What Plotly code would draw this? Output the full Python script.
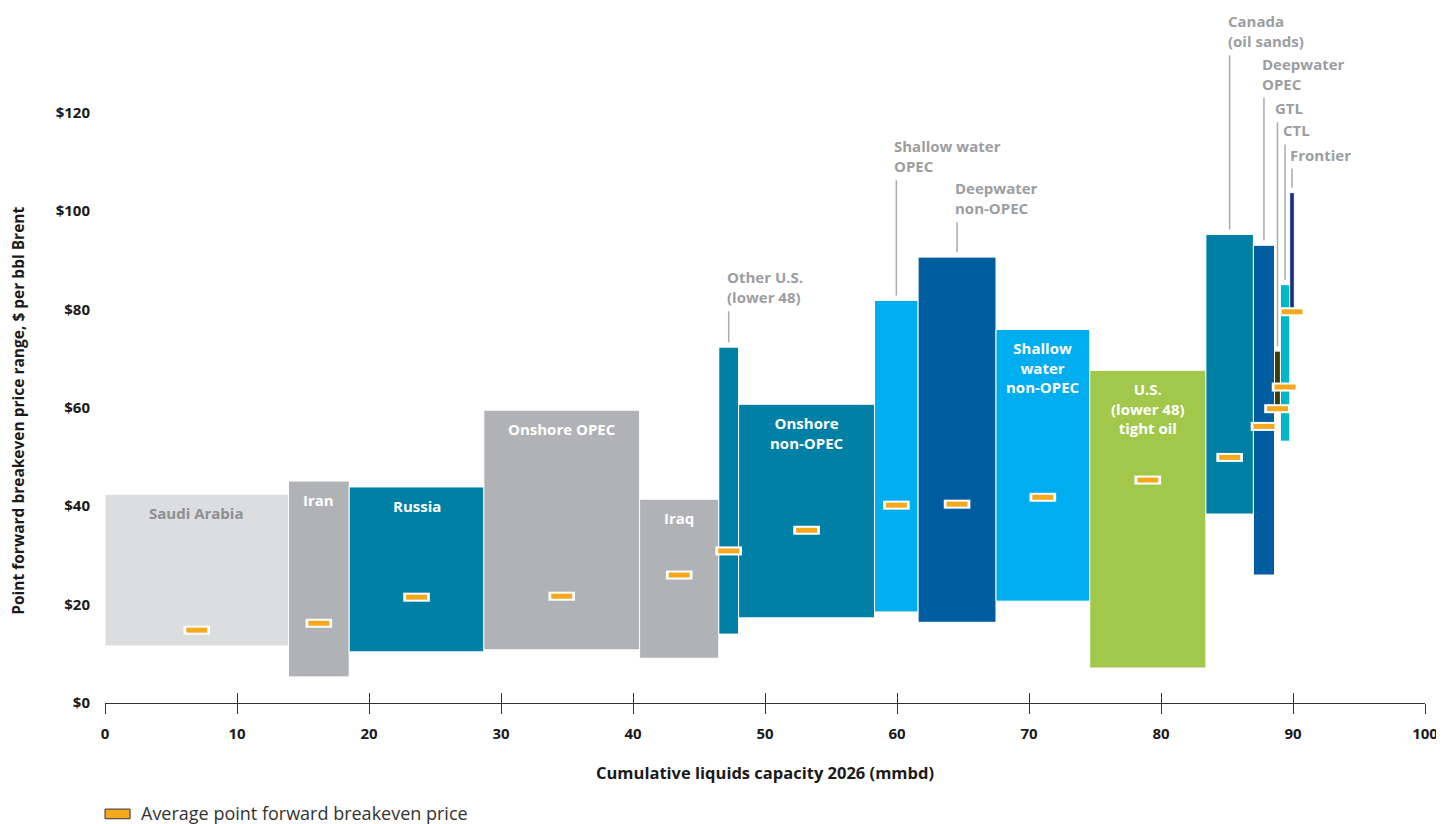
import plotly.graph_objects as go

# ---------------- data ----------------
names = ["Saudi Arabia", "Iran", "Russia", "Onshore OPEC", "Iraq", "Other U.S. (lower 48)",
         "Onshore non-OPEC", "Shallow water OPEC", "Deepwater non-OPEC", "Shallow water non-OPEC",
         "U.S. (lower 48) tight oil", "Canada (oil sands)", "Deepwater OPEC", "GTL", "CTL", "Frontier"]
capacity = [13.9, 4.6, 10.2, 11.8, 6.0, 1.5, 10.3, 3.3, 5.9, 7.1, 8.8, 3.6, 1.6, 0.45, 0.7, 0.35]
price_low = [11.6, 5.3, 10.4, 10.8, 9.1, 14.0, 17.3, 18.5, 16.4, 20.7, 7.1, 38.4, 26.0, 59.6, 53.2, 78.9]
price_high = [42.4, 45.1, 43.9, 59.5, 41.4, 72.3, 60.7, 81.8, 90.6, 75.9, 67.6, 95.2, 93.0, 71.5, 85.0, 103.7]
price_avg = [14.8, 16.2, 21.5, 21.7, 26.0, 30.9, 35.1, 40.2, 40.4, 41.8, 45.3, 49.9, 56.2, 59.8, 64.2, 79.5]
y_ticks = [0, 20, 40, 60, 80, 100, 120]
y_tick_labels = ["$0", "$20", "$40", "$60", "$80", "$100", "$120"]
x_ticks = [0, 10, 20, 30, 40, 50, 60, 70, 80, 90, 100]

# ---------------- styles ----------------
colors = ["#DCDDDF", "#B1B2B6", "#0080A5", "#B1B2B6", "#B1B2B6", "#0080A5",
          "#0080A5", "#00AEEF", "#005DA0", "#00AEEF", "#A1C84B", "#0080A5",
          "#005DA0", "#3B3A10", "#00B7CA", "#17307A"]

# inside labels: index -> (text, colour)
inside = {
    0: ("Saudi Arabia", "#8E8F93"),
    1: ("Iran", "white"),
    2: ("Russia", "white"),
    3: ("Onshore OPEC", "white"),
    4: ("Iraq", "white"),
    6: ("Onshore<br>non-OPEC", "white"),
    9: ("Shallow<br>water<br>non-OPEC", "white"),
    10: ("U.S.<br>(lower 48)<br>tight oil", "white"),
}
# outside labels: index -> (text, leader-top y; the text sits just above the leader)
outside = {
    5: ("Other U.S.<br>(lower 48)", 79.6),
    7: ("Shallow water<br>OPEC", 106.2),
    8: ("Deepwater<br>non-OPEC", 97.7),
    11: ("Canada<br>(oil sands)", 131.6),
    12: ("Deepwater<br>OPEC", 123.0),
    13: ("GTL", 118.0),
    14: ("CTL", 113.5),
    15: ("Frontier", 108.6),
}

starts = []
acc = 0.0
for c in capacity:
    starts.append(acc)
    acc += c
centers = [s + c / 2 for s, c in zip(starts, capacity)]
heights = [h - l for h, l in zip(price_high, price_low)]

FONT = "Open Sans"
GRAY = "#9C9DA1"
LBL = 15

fig = go.Figure()
fig.add_trace(go.Bar(
    x=centers, y=heights, base=price_low, width=capacity,
    marker=dict(color=colors, line=dict(color="white", width=1)),
    hovertext=names, showlegend=False,
))
# average markers (white outline + orange fill)
fig.add_trace(go.Scatter(
    x=centers, y=price_avg, mode="markers", showlegend=False, hoverinfo="skip",
    marker=dict(symbol="line-ew", size=19, line=dict(color="white", width=9)),
))
fig.add_trace(go.Scatter(
    x=centers, y=price_avg, mode="markers", showlegend=False,
    marker=dict(symbol="line-ew", size=15, line=dict(color="#F5A81C", width=5)),
    hovertext=names,
))

# hidden overlay axis for the inward part of the crossing ticks
fig.add_trace(go.Scatter(x=[0, 100], y=[0, 0], xaxis="x2", mode="markers",
                         marker=dict(opacity=0), showlegend=False, hoverinfo="skip"))

annotations = []
for i, (txt, col) in inside.items():
    annotations.append(dict(
        x=centers[i], y=price_high[i], xref="x", yref="y", text="<b>" + txt + "</b>",
        showarrow=False, yanchor="top", xanchor="center", yshift=-7,
        font=dict(family=FONT, size=LBL, color=col), align="center",
    ))
shapes = []
for i, (txt, ylead) in outside.items():
    annotations.append(dict(
        x=centers[i], y=ylead, xref="x", yref="y", text="<b>" + txt + "</b>",
        showarrow=False, yanchor="bottom", xanchor="left", xshift=-4, yshift=2,
        font=dict(family=FONT, size=LBL, color=GRAY), align="left",
    ))
    shapes.append(dict(type="line", xref="x", yref="y", x0=centers[i], x1=centers[i],
                       y0=price_high[i] + 1.0, y1=ylead, line=dict(color="#A9AAAD", width=1.5)))

# axis titles
annotations.append(dict(
    x=-0.0655, y=0.4235, xref="paper", yref="paper", textangle=-90, showarrow=False,
    text="<b>Point forward breakeven price range, $ per bbl Brent</b>",
    font=dict(family=FONT, size=15.5, color="#1A1A1A"), xanchor="center", yanchor="middle",
))
annotations.append(dict(
    x=0.5, y=-0.1015, xref="paper", yref="paper", showarrow=False,
    text="<b>Cumulative liquids capacity 2026 (mmbd)</b>",
    font=dict(family=FONT, size=16.5, color="#1A1A1A"), xanchor="center", yanchor="middle",
))
# legend
shapes.append(dict(type="rect", xref="paper", yref="paper", x0=0.0, x1=0.019,
                   y0=-0.168, y1=-0.154, fillcolor="#F5A81C", line=dict(color="#333333", width=1)))
annotations.append(dict(
    x=0.026, y=-0.160, xref="paper", yref="paper", showarrow=False,
    text="Average point forward breakeven price", xanchor="left", yanchor="middle",
    font=dict(family=FONT, size=18, color="#333333"),
))

# the page body adds an 8px margin, so the figure is sized to fit inside the window
fig.update_layout(
    width=1436, height=816,
    margin=dict(l=97, r=17, t=6, b=121),
    paper_bgcolor="white", plot_bgcolor="white",
    barmode="overlay",
    xaxis=dict(range=[0, 100], tickvals=x_ticks, ticks="outside", ticklen=10, tickcolor="#333",
               tickwidth=1.2, showline=True, linecolor="#333", linewidth=1.2, showgrid=False,
               zeroline=False, tickfont=dict(family=FONT, size=15, color="#1A1A1A", weight="bold"),
               ticklabelstandoff=7),
    xaxis2=dict(range=[0, 100], overlaying="x", side="bottom", tickvals=x_ticks, ticks="inside",
                ticklen=10, tickcolor="#333", tickwidth=1.2, showticklabels=False, showgrid=False,
                zeroline=False, showline=False),
    yaxis=dict(range=[0, 140], tickvals=y_ticks, ticktext=y_tick_labels, showgrid=False,
               zeroline=False, showline=False, ticks="", ticklabelstandoff=14,
               tickfont=dict(family=FONT, size=15, color="#1A1A1A", weight="bold")),
    annotations=annotations, shapes=shapes,
    showlegend=False,
)

fig.write_html("out.html")
